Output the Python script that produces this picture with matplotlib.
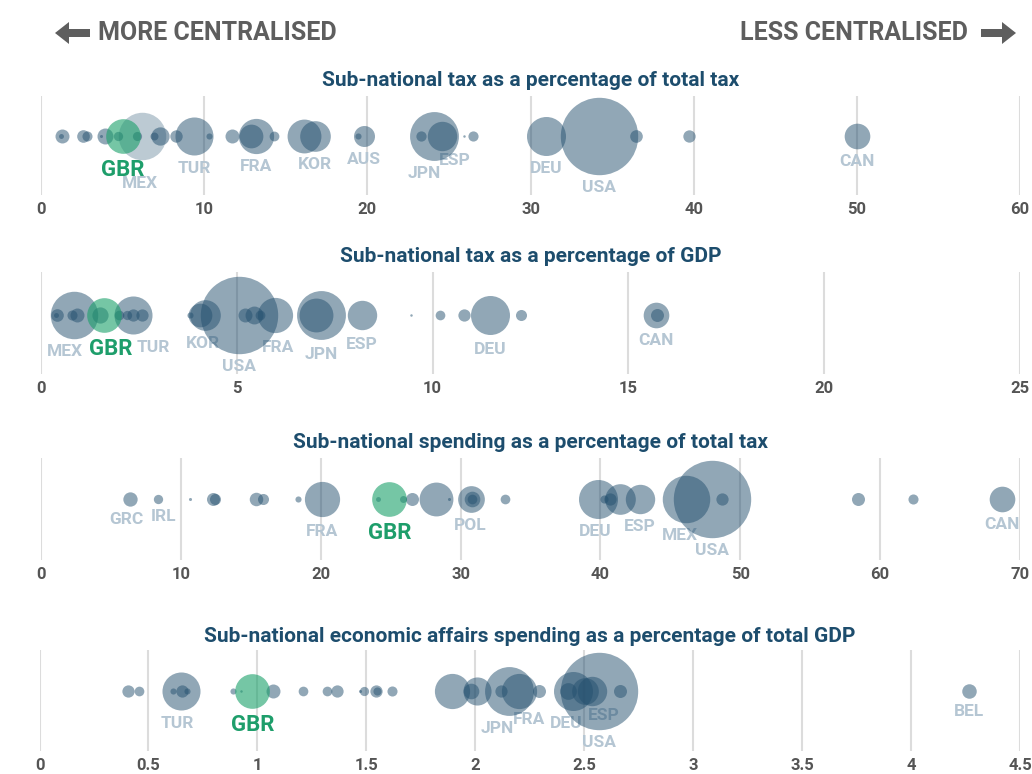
import numpy as np
import matplotlib
matplotlib.use("Agg")
import matplotlib.pyplot as plt
from matplotlib.patches import Polygon

# ---------------- data ----------------
# Panel 1: Sub-national tax as a percentage of total tax
p1_labels = ["", "", "", "", "", "", "GBR", "MEX", "", "", "", "", "", "TUR", "", "", "FRA", "",
             "", "", "KOR", "AUS", "", "JPN", "ESP", "", "", "", "DEU", "USA", "", "", "CAN"]
p1_values = [1.27, 1.2, 2.6, 2.8, 3.9, 3.7, 5.0, 6.2, 4.7, 5.9, 6.9, 7.3, 8.3, 9.4, 10.3, 11.7, 13.2, 12.9,
             14.3, 16.1, 16.8, 19.8, 19.4, 24.1, 24.6, 23.3, 25.9, 26.5, 30.97, 34.2, 36.45, 39.7, 50.0]
p1_pop = [10.4, 1.3, 8.5, 5.4, 13.6, 0.5, 64, 120, 4.6, 4.5, 3.4, 17.8, 8.2, 77, 2.0, 10.4, 66, 30,
          5.1, 61, 50, 23.5, 2.0, 127, 46, 5.6, 0.33, 5.5, 81, 319, 8.5, 8.1, 35]

# Panel 2: Sub-national tax as a percentage of GDP
p2_labels = ["", "", "MEX", "", "", "GBR", "", "", "TUR", "", "", "", "", "KOR", "", "USA", "", "",
             "", "FRA", "JPN", "", "ESP", "", "", "", "DEU", "", "CAN", ""]
p2_values = [0.40, 0.38, 0.84, 0.78, 0.93, 1.62, 1.5, 1.98, 2.36, 2.2, 2.36, 2.58, 3.81, 4.19, 4.05, 5.06,
             5.22, 5.43, 5.58, 5.97, 7.15, 7.03, 8.2, 9.45, 10.19, 10.81, 11.46, 12.26, 15.70, 15.74]
p2_pop = [8.5, 1.3, 120, 5.4, 10.4, 64, 14, 5.0, 77, 4.6, 8.0, 8.0, 2.0, 50, 30, 319,
          10.4, 17.0, 5.1, 66, 127, 61, 46, 0.33, 5.0, 8.0, 81, 6.5, 35, 9.0]

# Panel 3: Sub-national spending as a percentage of total tax
p3_labels = ["GRC", "IRL", "", "", "", "", "", "", "FRA", "GBR", "", "", "", "", "", "POL", "", "",
             "", "DEU", "", "", "", "ESP", "MEX", "USA", "", "", "", "CAN"]
p3_values = [6.39, 8.37, 10.68, 12.3, 12.45, 15.39, 15.87, 18.4, 20.07, 24.9, 24.1, 25.87, 26.5, 28.25,
             29.2, 30.72, 30.8, 30.8, 33.2, 39.83, 40.24, 40.68, 41.4, 42.8, 46.13, 48.0, 48.7,
             58.4, 62.35, 68.7]
p3_pop = [10.9, 4.6, 0.5, 9.0, 6.5, 9.7, 6.5, 2.0, 66, 64, 1.3, 2.6, 9.0, 61,
          0.5, 38, 13, 5.0, 5.0, 81, 3.5, 8.0, 50, 46, 120, 319, 8.0,
          9.0, 5.4, 35]

# Panel 4: Sub-national economic affairs spending as a percentage of total GDP
p4_labels = ["", "", "TUR", "", "", "", "", "", "GBR", "", "", "", "", "", "", "", "", "",
             "", "", "", "JPN", "", "FRA", "", "DEU", "", "", "ESP", "USA", "", "BEL"]
p4_values = [0.405, 0.458, 0.649, 0.614, 0.655, 0.675, 0.889, 0.923, 0.977, 1.07, 1.208, 1.318, 1.364,
             1.471, 1.49, 1.543, 1.55, 1.619, 1.892, 2.006, 1.98, 2.155, 2.12, 2.2, 2.293, 2.447,
             2.426, 2.505, 2.537, 2.566, 2.664, 4.267]
p4_pop = [8.0, 5.0, 77, 2.0, 8.0, 2.0, 2.0, 0.33, 64, 10.4, 5.0, 5.0, 8.0,
          0.5, 4.5, 8.0, 3.5, 5.4, 66, 42, 13, 127, 8.0, 66, 9.0, 81,
          15, 38, 46, 319, 9.0, 11.2]

titles = ["Sub-national tax as a percentage of total tax",
          "Sub-national tax as a percentage of GDP",
          "Sub-national spending as a percentage of total tax",
          "Sub-national economic affairs spending as a percentage of total GDP"]
p1_ticks = [0, 10, 20, 30, 40, 50, 60]
p2_ticks = [0, 5, 10, 15, 20, 25]
p3_ticks = [0, 10, 20, 30, 40, 50, 60, 70]
p4_ticks = [0, 0.5, 1, 1.5, 2, 2.5, 3, 3.5, 4, 4.5]
p4_ticklabels = ["0", "0.5", "1", "1.5", "2", "2.5", "3", "3.5", "4", "4.5"]

# ---------------- style / layout ----------------
W, H, DPI = 1032, 774, 100
FONT = ["Roboto", "DejaVu Sans"]
plt.rcParams["font.family"] = FONT

BUBBLE = "#24506f"
GREEN = "#1aa06a"
LABEL_C = "#b5c6d3"
GBR_C = "#1e9e6b"
TITLE_C = "#1d4d6d"
TICK_C = "#555555"
GRID_C = "#dcdcdc"

PX = 72.0 / DPI  # points per pixel
R_USA = 38.7     # radius (px) for population 319M


def radius(pop):
    return R_USA * np.sqrt(np.asarray(pop, float) / 319.0)


# panel geometry in pixels: (left, right, grid_top, grid_bottom, bubble_y, title_y)
geom = [(41, 1020, 96, 195, 136, 81),
        (41, 1020, 272, 374, 315, 257),
        (41, 1020, 458, 560, 499, 443),
        (39.5, 1020, 650, 751, 691, 636)]

# label nudges (dx, dy) in pixels
nudges = [
    {"MEX": (-2, 11), "JPN": (-10, 0), "ESP": (12, -3)},
    {"MEX": (-9, 0), "GBR": (6, 0), "TUR": (20, 0), "KOR": (-2, 0), "FRA": (3, 2), "DEU": (0, 2),
     "JPN": (0, 2), "ESP": (0, 2)},
    {"GRC": (-4, 0), "IRL": (5, 0), "MEX": (-6, 0), "DEU": (-3, 0), "FRA": (0, 2)},
    {"TUR": (-4, 0), "JPN": (-12, 0), "FRA": (10, -2), "DEU": (-6, 0), "ESP": (11, -3)},
]

panels = [
    (p1_labels, p1_values, p1_pop, p1_ticks, [str(t) for t in p1_ticks]),
    (p2_labels, p2_values, p2_pop, p2_ticks, [str(t) for t in p2_ticks]),
    (p3_labels, p3_values, p3_pop, p3_ticks, [str(t) for t in p3_ticks]),
    (p4_labels, p4_values, p4_pop, p4_ticks, p4_ticklabels),
]

fig = plt.figure(figsize=(W / DPI, H / DPI), dpi=DPI)
fig.patch.set_facecolor("white")

# background axes in pixel coordinates for header
bg = fig.add_axes([0, 0, 1, 1])
bg.set_xlim(0, W)
bg.set_ylim(H, 0)
bg.axis("off")

HEAD_C = "#5e5e5e"
bg.text(98, 33, "MORE CENTRALISED", fontsize=18, fontweight="bold", color=HEAD_C,
        ha="left", va="center", family=FONT)
bg.text(968, 33, "LESS CENTRALISED", fontsize=18, fontweight="bold", color=HEAD_C,
        ha="right", va="center", family=FONT)
# arrows
left_arrow = [(55, 33), (69, 22), (69, 29), (90, 29), (90, 37), (69, 37), (69, 44)]
right_arrow = [(1016, 33), (1002, 22), (1002, 29), (981, 29), (981, 37), (1002, 37), (1002, 44)]
bg.add_patch(Polygon(left_arrow, closed=True, color=HEAD_C, lw=0))
bg.add_patch(Polygon(right_arrow, closed=True, color=HEAD_C, lw=0))

for i, (labels, values, pops, ticks, ticklabels) in enumerate(panels):
    left, right, gtop, gbot, by, ty = geom[i]
    ax = fig.add_axes([left / W, 1 - gbot / H, (right - left) / W, (gbot - gtop) / H])
    ax.set_xlim(ticks[0], ticks[-1])
    ax.set_ylim(gbot, gtop)
    for s in ax.spines.values():
        s.set_visible(False)
    ax.set_yticks([])
    ax.set_xticks(ticks)
    ax.set_xticklabels(ticklabels, fontsize=12, fontweight="bold", color=TICK_C)
    ax.tick_params(axis="x", length=0, pad=5)
    ax.set_facecolor("none")
    for t in ticks:
        ax.axvline(t, color=GRID_C, lw=1.5, zorder=0)

    vals = np.asarray(values, float)
    r = radius(pops)
    sizes = (2 * r * PX) ** 2
    cols = []
    alphas = []
    for lab in labels:
        if lab == "GBR":
            cols.append(GREEN)
            alphas.append(0.6)
        elif lab == "MEX" and i == 0:
            cols.append(BUBBLE)
            alphas.append(0.3)
        else:
            cols.append(BUBBLE)
            alphas.append(0.5)
    order = np.argsort(-r)
    for j in order:
        ax.scatter(vals[j], by, s=sizes[j], color=cols[j], alpha=alphas[j], lw=0,
                   zorder=3 if labels[j] != "GBR" else 4, clip_on=False)

    for j, lab in enumerate(labels):
        if not lab:
            continue
        dx, dy = nudges[i].get(lab, (0, 0))
        if lab == "GBR":
            off = r[j] + 17 + dy
            ax.annotate(lab, (vals[j], by), xytext=(dx * PX, -off * PX), textcoords="offset points",
                        ha="center", va="center", fontsize=16, fontweight="bold", color=GBR_C,
                        zorder=6, annotation_clip=False)
        else:
            off = r[j] + 13 + dy
            ax.annotate(lab, (vals[j], by), xytext=(dx * PX, -off * PX), textcoords="offset points",
                        ha="center", va="center", fontsize=12.5, fontweight="bold", color=LABEL_C,
                        zorder=2, annotation_clip=False)

    bg.text((left + right) / 2, ty, titles[i], fontsize=15, fontweight="bold", color=TITLE_C,
            ha="center", va="center", family=FONT)

fig.savefig("out.png", dpi=DPI)
